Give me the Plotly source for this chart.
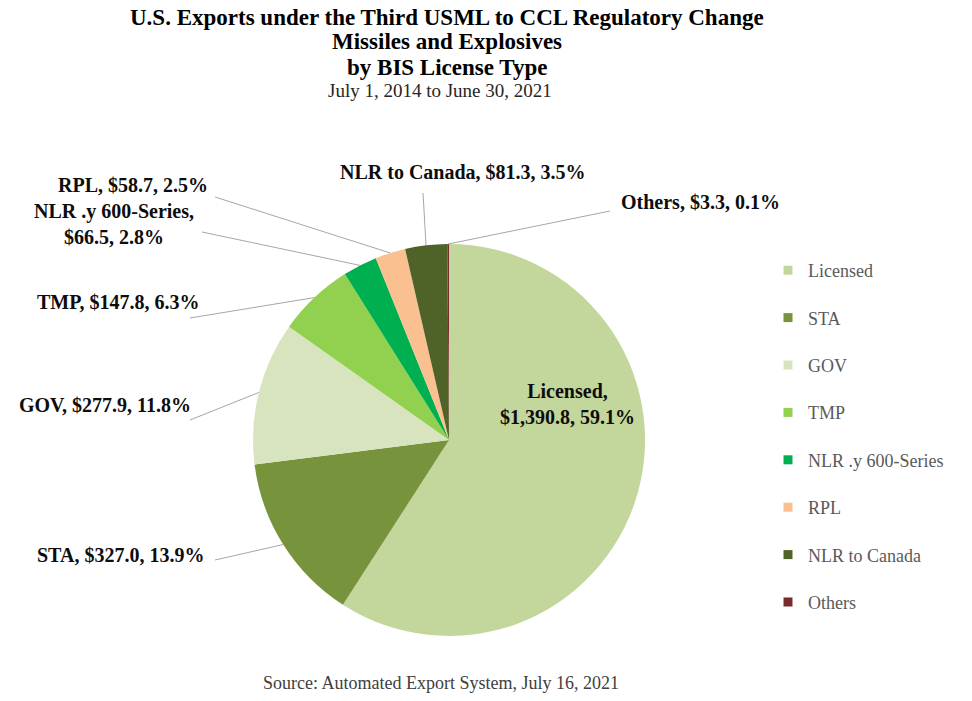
import math
import plotly.graph_objects as go

# ---------------- data ----------------
categories = ["Licensed", "STA", "GOV", "TMP", "NLR .y 600-Series", "RPL", "NLR to Canada", "Others"]
values = [1390.8, 327.0, 277.9, 147.8, 66.5, 58.7, 81.3, 3.3]
colors = ["#c3d69b", "#77933c", "#d7e4bd", "#92d050", "#00b050", "#fac090", "#4f6228", "#772c2a"]

title_lines = ["U.S. Exports under the Third USML to CCL Regulatory Change",
               "Missiles and Explosives",
               "by BIS License Type"]
subtitle = "July 1, 2014 to June 30, 2021"
source = "Source: Automated Export System, July 16, 2021"

# ---------------- layout constants (pixels) ----------------
W, H = 972, 701
CX, CY, R = 449, 440, 196

# label placement: (text x, text y, line-end x, line-end y, break after name)
label_layout = [
    (567, 404, None, None, True),     # Licensed (inside)
    (120, 555, 215, 560, False),      # STA
    (105, 405, 190, 420, False),      # GOV
    (118, 302, 190, 318, False),      # TMP
    (114, 224, 202, 232, True),       # NLR .y 600-Series
    (133, 185, 215, 197, False),      # RPL
    (463, 172, 423, 193, False),      # NLR to Canada
    (700, 202, 610, 211, False),      # Others
]


def px(x):
    return x / W


def py(y):
    return 1 - y / H


fig = go.Figure()

fig.add_trace(go.Pie(
    labels=categories,
    values=values,
    marker=dict(colors=colors, line=dict(width=0)),
    sort=False,
    direction="clockwise",
    rotation=0,
    textinfo="none",
    hoverinfo="label+value+percent",
    showlegend=False,
    domain=dict(x=[px(CX - R), px(CX + R)], y=[py(CY + R), py(CY - R)]),
))

# legend entries (one per category, so that spacing can be controlled)
for name, col in zip(categories, colors):
    fig.add_trace(go.Scatter(
        x=[None], y=[None], mode="markers", name=name, legendgroup=name,
        marker=dict(symbol="square", size=9, color=col),
        hoverinfo="skip",
    ))

total = sum(values)
annotations = []
shapes = []
cum = 0.0
for name, val, lay in zip(categories, values, label_layout):
    frac = val / total
    mid = (cum + frac / 2) * 2 * math.pi
    cum += frac
    tx, ty, lx, ly, brk = lay
    sep = ",<br>" if brk else ", "
    text = f"<b>{name}{sep}${val:,.1f}, {frac * 100:.1f}%</b>"
    annotations.append(dict(
        x=px(tx), y=py(ty), xref="paper", yref="paper", text=text,
        showarrow=False, xanchor="center", yanchor="middle",
        font=dict(family="Liberation Serif", size=20, color="#0d0d0d"),
        align="center",
    ))
    if lx is not None:
        ex = CX + R * math.sin(mid)
        ey = CY - R * math.cos(mid)
        shapes.append(dict(
            type="line", xref="paper", yref="paper",
            x0=px(lx), y0=py(ly), x1=px(ex), y1=py(ey),
            line=dict(color="#a6a6a6", width=1),
        ))

# titles
title_y = [17, 42, 67]
for t, yy in zip(title_lines, title_y):
    annotations.append(dict(
        x=px(447), y=py(yy), xref="paper", yref="paper", text=f"<b>{t}</b>",
        showarrow=False, xanchor="center", yanchor="middle",
        font=dict(family="Liberation Serif", size=23, color="#000000"),
    ))
annotations.append(dict(
    x=px(440), y=py(90), xref="paper", yref="paper", text=subtitle,
    showarrow=False, xanchor="center", yanchor="middle",
    font=dict(family="Liberation Serif", size=19, color="#262626"),
))
annotations.append(dict(
    x=px(441), y=py(683), xref="paper", yref="paper", text=source,
    showarrow=False, xanchor="center", yanchor="middle",
    font=dict(family="Liberation Serif", size=18, color="#404040"),
))

fig.update_layout(
    width=W, height=H,
    margin=dict(l=0, r=0, t=0, b=0),
    paper_bgcolor="white", plot_bgcolor="white",
    xaxis=dict(visible=False), yaxis=dict(visible=False),
    annotations=annotations,
    shapes=shapes,
    showlegend=True,
    legend=dict(
        x=px(768), y=py(252), xanchor="left", yanchor="top",
        font=dict(family="Liberation Serif", size=18, color="#595959"),
        tracegroupgap=21, bgcolor="rgba(0,0,0,0)",
    ),
)

fig.write_html("out.html")
